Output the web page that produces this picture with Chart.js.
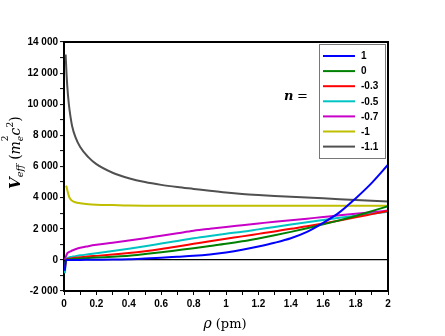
<!DOCTYPE html>
<html>
<head>
<meta charset="utf-8">
<script src="https://cdn.jsdelivr.net/npm/chart.js@4.4.1/dist/chart.umd.min.js"></script>
<style>
  html, body { margin: 0; padding: 0; background: #fff; }
  #wrap { width: 445px; height: 336px; }
</style>
</head>
<body>
<div id="wrap"><canvas id="chart" width="445" height="336"></canvas></div>
<script>
// rho (pm) sample points
const rho = [0.005, 0.01, 0.015, 0.02, 0.03, 0.04, 0.05, 0.07, 0.1, 0.15, 0.2, 0.3, 0.4, 0.5,
             0.6, 0.7, 0.8, 0.9, 1.0, 1.1, 1.2, 1.3, 1.4, 1.5, 1.6, 1.7, 1.8, 1.9, 2.0];

// V_eff for each n
const nPlus1  = [-700, -100, 0, 0, 0, 0, 0, 0, 0, 5, 10, 20, 45, 90,
                 140, 200, 260, 350, 480, 650, 860, 1100, 1390, 1800, 2380, 3050, 3950, 4950, 6110];
const n0      = [-300, -100, 0, 20, 30, 40, 50, 70, 90, 120, 150, 200, 260, 370,
                 490, 620, 750, 890, 1030, 1190, 1380, 1580, 1800, 2030, 2280, 2540, 2820, 3130, 3450];
const nM03    = [-640, -200, 0, 50, 80, 95, 110, 140, 170, 220, 257, 340, 440, 560,
                 700, 860, 1030, 1200, 1360, 1510, 1670, 1830, 2000, 2160, 2340, 2530, 2730, 2940, 3150];
const nM05    = [-860, -300, 0, 100, 150, 180, 200, 240, 290, 360, 430, 570, 720, 880,
                 1050, 1220, 1390, 1540, 1680, 1810, 1960, 2110, 2270, 2420, 2560, 2700, 2830, 2960, 3090];
const nM07    = [0, 150, 300, 420, 500, 550, 600, 680, 780, 880, 965, 1100, 1240, 1390,
                 1550, 1710, 1870, 2000, 2120, 2230, 2340, 2450, 2550, 2650, 2750, 2860, 2960, 3060, 3170];
const nM1     = [null, 4750, 4700, 4500, 4100, 3900, 3800, 3700, 3640, 3580, 3550, 3520, 3490, 3480,
                 3480, 3480, 3475, 3475, 3475, 3470, 3470, 3470, 3470, 3470, 3470, 3470, 3470, 3470, 3470];
const nM11    = [null, 13200, 12100, 11200, 10000, 9200, 8600, 7900, 7250, 6600, 6150, 5600, 5250, 5000,
                 4820, 4680, 4560, 4440, 4330, 4240, 4170, 4110, 4060, 4010, 3960, 3900, 3850, 3800, 3750];

const seriesLabels = ['1', '0', '-0.3', '-0.5', '-0.7', '-1', '-1.1'];
const seriesValues = [nPlus1, n0, nM03, nM05, nM07, nM1, nM11];
const seriesColors = ['#0000ff', '#008000', '#ff0000', '#00c4c4', '#c800c8', '#bfbf00', '#505050'];

const tickFont = { family: 'Liberation Sans, Arial, sans-serif', size: 10, weight: 'bold' };

function spaced(v) {
  const s = String(Math.abs(Math.round(v))).replace(/\B(?=(\d{3})+(?!\d))/g, ' ');
  return (v < 0 ? '-' : '') + s;
}

// frame, legend, axis titles
const decorPlugin = {
  id: 'decor',
  afterDraw(chart) {
    const ctx = chart.ctx, a = chart.chartArea;
    ctx.save();
    ctx.strokeStyle = '#000';
    ctx.lineWidth = 2;
    ctx.beginPath();
    ctx.moveTo(a.left, a.top); ctx.lineTo(a.right, a.top); ctx.lineTo(a.right, a.bottom);
    ctx.stroke();

    // legend box
    ctx.lineWidth = 1;
    ctx.strokeStyle = '#777';
    ctx.fillStyle = '#fff';
    ctx.fillRect(319.5, 44.5, 66, 114);
    ctx.strokeRect(319.5, 44.5, 66, 114);
    ctx.font = 'bold 10px Liberation Sans, Arial, sans-serif';
    ctx.textBaseline = 'middle';
    ctx.textAlign = 'left';
    seriesLabels.forEach((lab, i) => {
      const y = 56 + i * 15.1;
      ctx.strokeStyle = seriesColors[i];
      ctx.lineWidth = 2;
      ctx.beginPath(); ctx.moveTo(323, y); ctx.lineTo(355, y); ctx.stroke();
      ctx.fillStyle = '#000';
      ctx.fillText(lab, 361, y + 0.5);
    });

    // "n ="
    ctx.fillStyle = '#000';
    ctx.font = 'bold italic 13px DejaVu Serif, serif';
    ctx.fillText('n', 284, 97);
    ctx.font = '13px DejaVu Serif, serif';
    ctx.fillText('=', 297, 97);

    // x title
    ctx.textBaseline = 'alphabetic';
    const xparts = [['italic 14px DejaVu Serif, serif', 'ρ', 0], ['13px DejaVu Serif, serif', ' (pm)', 0]];
    drawParts(ctx, xparts, 225, 328);

    // y title (rotated)
    ctx.translate(20, 150);
    ctx.rotate(-Math.PI / 2);
    const yparts = [
      ['bold italic 15px DejaVu Serif, serif', 'V', 0],
      ['italic 10px DejaVu Serif, serif', 'eff', 3],
      ['14px DejaVu Serif, serif', ' (', 0],
      ['italic 14px DejaVu Serif, serif', 'm', 0],
      ['italic 9px DejaVu Serif, serif', 'e', 3],
      ['9px DejaVu Serif, serif', '2', -12],
      ['italic 14px DejaVu Serif, serif', 'c', 0],
      ['9px DejaVu Serif, serif', '2', -7],
      ['14px DejaVu Serif, serif', ')', 0]
    ];
    drawParts(ctx, yparts, 0, 0);
    ctx.restore();
  }
};

function drawParts(ctx, parts, cx, baseY) {
  let total = 0;
  parts.forEach(p => { ctx.font = p[0]; total += ctx.measureText(p[1]).width; });
  let x = cx - total / 2;
  let lastSubX = null;
  ctx.textAlign = 'left';
  parts.forEach(p => {
    ctx.font = p[0];
    // superscript directly after a subscript stacks above it
    if (p[2] < -8 && lastSubX !== null) { x = lastSubX; }
    ctx.fillText(p[1], x, baseY + p[2]);
    if (p[2] > 0) lastSubX = x; else lastSubX = null;
    x += ctx.measureText(p[1]).width;
  });
}

const datasets = seriesLabels.map((lab, i) => ({
  label: lab,
  data: rho.map((r, j) => ({ x: r, y: seriesValues[i][j] })),
  borderColor: seriesColors[i],
  backgroundColor: seriesColors[i],
  borderWidth: 2,
  pointRadius: 0,
  cubicInterpolationMode: 'monotone',
  fill: false
}));

new Chart(document.getElementById('chart'), {
  type: 'line',
  data: { datasets },
  options: {
    responsive: false,
    animation: false,
    layout: { padding: { top: 42, right: 57, left: 0, bottom: 0 } },
    plugins: { legend: { display: false }, tooltip: { enabled: false } },
    scales: {
      x: {
        type: 'linear',
        min: 0, max: 2,
        afterFit: s => { s.height = 45; },
        border: { color: '#000', width: 2 },
        grid: { drawOnChartArea: false, tickLength: 4, tickColor: '#000', tickWidth: 1 },
        ticks: {
          stepSize: 0.1,
          autoSkip: false,
          maxRotation: 0,
          padding: 3,
          color: '#000',
          font: tickFont,
          callback: v => (Math.round(v * 10) % 2 === 0 ? String(+v.toFixed(1)) : '')
        }
      },
      y: {
        min: -2000, max: 14000,
        afterFit: s => { s.width = 64; },
        border: { color: '#000', width: 2 },
        grid: {
          tickLength: 4,
          tickColor: '#000',
          tickWidth: 1,
          lineWidth: 1.2,
          color: c => (c.tick && c.tick.value === 0 ? '#000' : 'rgba(0,0,0,0)')
        },
        ticks: {
          stepSize: 1000,
          autoSkip: false,
          padding: 2,
          color: '#000',
          font: tickFont,
          callback: v => (Math.round(v) % 2000 === 0 ? spaced(v) : '')
        }
      }
    }
  },
  plugins: [decorPlugin]
});
</script>
</body>
</html>
